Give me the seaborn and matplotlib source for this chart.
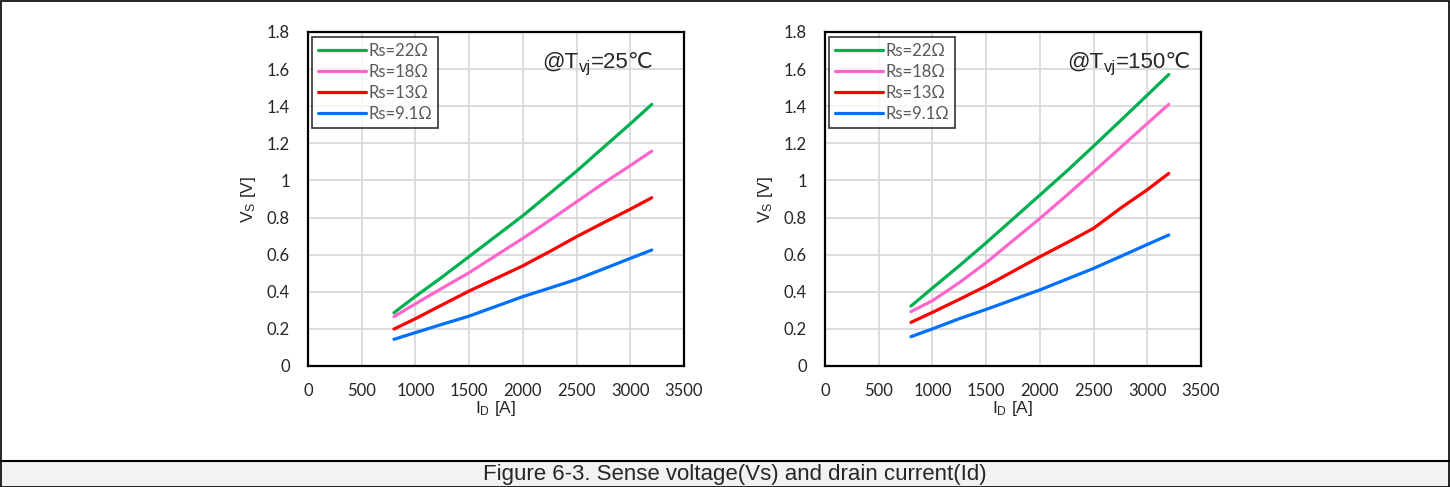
import numpy as np
import pandas as pd
import seaborn as sns
import matplotlib.pyplot as plt
from matplotlib.patches import Rectangle
from matplotlib.lines import Line2D

# values
id_a = [800, 1000, 1250, 1500, 2000, 2250, 2500, 2750, 3000, 3200]
series = ["Rs=22Ω", "Rs=18Ω", "Rs=13Ω", "Rs=9.1Ω"]

vs_25 = {
    "Rs=22Ω": [0.287, 0.375, 0.48, 0.59, 0.81, 0.93, 1.05, 1.178, 1.305, 1.41],
    "Rs=18Ω": [0.266, 0.335, 0.42, 0.503, 0.688, 0.785, 0.885, 0.985, 1.08, 1.158],
    "Rs=13Ω": [0.199, 0.255, 0.33, 0.404, 0.54, 0.617, 0.697, 0.772, 0.845, 0.907],
    "Rs=9.1Ω": [0.144, 0.18, 0.225, 0.269, 0.374, 0.42, 0.467, 0.523, 0.58, 0.625],
}
vs_150 = {
    "Rs=22Ω": [0.323, 0.42, 0.54, 0.664, 0.921, 1.05, 1.185, 1.322, 1.46, 1.571],
    "Rs=18Ω": [0.293, 0.352, 0.449, 0.557, 0.795, 0.92, 1.047, 1.177, 1.307, 1.41],
    "Rs=13Ω": [0.235, 0.289, 0.359, 0.431, 0.589, 0.664, 0.742, 0.85, 0.95, 1.038],
    "Rs=9.1Ω": [0.158, 0.20, 0.255, 0.305, 0.41, 0.468, 0.526, 0.59, 0.655, 0.706],
}
# (temperature text, data, x start of the "@T_vj=..." label in axes fraction)
panels = [("=25℃", vs_25, 0.622), ("=150℃", vs_150, 0.644)]

colors = {"Rs=22Ω": "#00b050", "Rs=18Ω": "#ff66cc", "Rs=13Ω": "#ff0000", "Rs=9.1Ω": "#0070ff"}

sns.set_style("white")
plt.rcParams["font.family"] = ["Liberation Sans", "DejaVu Sans"]
plt.rcParams["mathtext.fontset"] = "custom"
plt.rcParams["mathtext.rm"] = "Liberation Sans"
plt.rcParams["mathtext.it"] = "Liberation Sans:italic"

W, H = 1450, 487
fig = plt.figure(figsize=(W / 100, H / 100), dpi=100)

# caption band and outer frame
fig.patches.append(Rectangle((0, 0), 1, 26 / H, transform=fig.transFigure,
                             facecolor="#f2f2f2", edgecolor="none", zorder=0))
fig.lines.append(Line2D([0, 1], [26 / H, 26 / H], transform=fig.transFigure, color="black", lw=1.5))
fig.patches.append(Rectangle((0.0005, 0.001), 0.999, 0.997, transform=fig.transFigure,
                             facecolor="none", edgecolor="black", lw=1.2, zorder=5))
fig.text(735 / W, 12.5 / H, "Figure 6-3. Sense voltage(Vs) and drain current(Id)",
         ha="center", va="center", fontsize=16)

lefts = [308, 825]
for (temp, data, tx), left in zip(panels, lefts):
    ax = fig.add_axes([left / W, (H - 366) / H, 376 / W, 334 / H])
    rows = []
    for s in series:
        for x, v in zip(id_a, data[s]):
            rows.append({"ID": x, "VS": v, "series": s})
    df = pd.DataFrame(rows)
    sns.lineplot(data=df, x="ID", y="VS", hue="series", hue_order=series,
                 palette=colors, lw=2.3, ax=ax, legend=True)
    ax.set_xlim(0, 3500)
    ax.set_ylim(0, 1.8)
    ax.set_xticks(np.arange(0, 3501, 500))
    ax.set_yticks(np.round(np.arange(0, 1.81, 0.2), 1))
    ax.set_yticklabels(["0", "0.2", "0.4", "0.6", "0.8", "1", "1.2", "1.4", "1.6", "1.8"])
    ax.grid(True, color="#d9d9d9", lw=1.3)
    ax.set_axisbelow(True)
    for sp in ax.spines.values():
        sp.set_color("black")
        sp.set_linewidth(1.6)
    ax.tick_params(length=0, labelsize=12)
    ax.tick_params(axis="y", pad=13)
    ax.tick_params(axis="x", pad=12)
    for t in ax.get_xticklabels() + ax.get_yticklabels():
        t.set_family(["Lato", "DejaVu Sans"])
    ax.set_xlabel("I$_{\\mathrm{D}}$ [A]", fontsize=12.5, labelpad=0.5)
    ax.set_ylabel("V$_{\\mathrm{S}}$ [V]", fontsize=12.5, labelpad=6)
    handles, labels = ax.get_legend_handles_labels()
    leg = ax.legend(handles, labels, loc="upper left", bbox_to_anchor=(0.011, 0.985),
                    frameon=True, fancybox=False, handlelength=2.9,
                    handletextpad=0.15, labelspacing=0.3, borderpad=0.35,
                    borderaxespad=0.0,
                    prop={"family": ["Lato", "DejaVu Sans"], "size": 12})
    leg.get_frame().set_edgecolor("black")
    leg.get_frame().set_linewidth(1.2)
    for t in leg.get_texts():
        t.set_color("#595959")

    # "@T_vj=25℃" built from pieces so ℃ can fall back to DejaVu Sans
    yb = 0.892
    t1 = ax.text(tx, yb, "@T", transform=ax.transAxes, ha="left", va="baseline", fontsize=16)
    t2 = ax.annotate("vj", xy=(1, 0), xycoords=t1, xytext=(0.5, 0.5), textcoords="offset points",
                     ha="left", va="baseline", fontsize=12)
    ax.annotate(temp, xy=(1, yb), xycoords=(t2, ax.transAxes), ha="left", va="baseline",
                fontsize=16, family=["Liberation Sans", "DejaVu Sans"])

fig.savefig("out.png", dpi=100)
